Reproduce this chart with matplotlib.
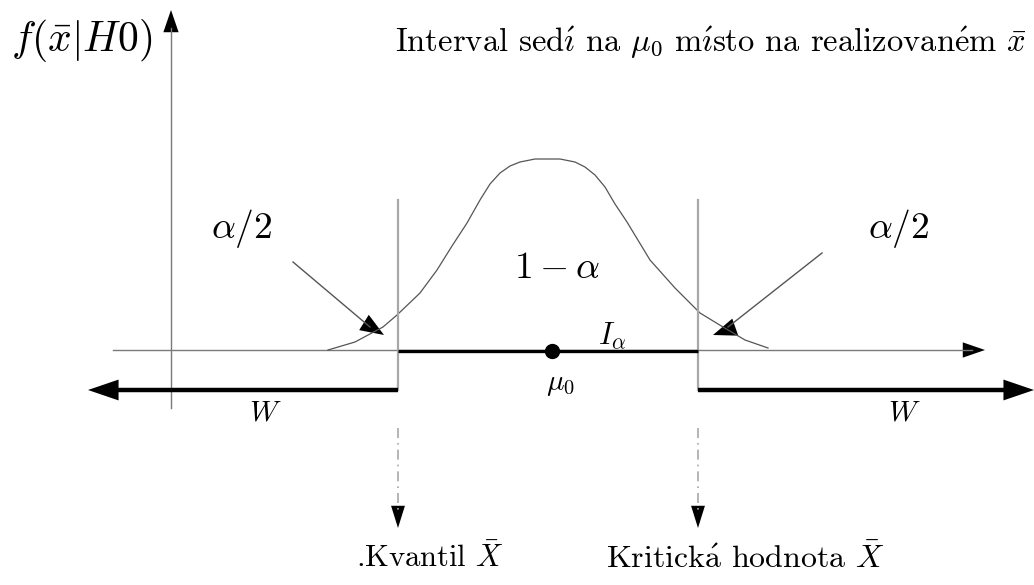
import matplotlib
matplotlib.use("Agg")
import matplotlib.pyplot as plt
from matplotlib.patches import FancyArrowPatch

plt.rcParams["mathtext.fontset"] = "cm"
plt.rcParams["font.family"] = ["cmr10", "DejaVu Serif"]
plt.rcParams["axes.unicode_minus"] = False

# Density curve under H0 (horizontal position, height above the axis)
curve_x = [328, 355, 383, 397, 420, 437, 452, 467, 480, 490, 500, 510, 520,
           535, 547, 560, 575, 585, 595, 605, 615, 627, 650, 675, 700, 723,
           745, 768]
curve_h = [0, 8, 23, 35, 57, 80, 104, 127, 150, 166, 177, 184, 188,
           191, 191, 191, 188, 183, 175, 163, 146, 128, 90, 62, 37, 23,
           10, 2]

# Key positions on the horizontal axis
mu0 = 552
lower_crit = 398
upper_crit = 698
y_axis_x = 171

GRAY = "#7a7a7a"
LIGHT = "#a8a8a8"

fig = plt.figure(figsize=(10.34, 5.85), dpi=100)
ax = fig.add_axes([0, 0, 1, 1])
ax.set_xlim(0, 1034)
ax.set_ylim(350 - 585, 350)
ax.axis("off")


def head(p0, p1, length=1.6, width=0.55):
    ax.add_patch(FancyArrowPatch(p0, p1,
                                 arrowstyle=f"-|>,head_length={length},head_width={width}",
                                 mutation_scale=10, color="black", lw=0,
                                 shrinkA=0, shrinkB=0))


# vertical axis
ax.plot([y_axis_x, y_axis_x], [-58, 322], color=GRAY, lw=1.0)
head((y_axis_x, 318), (y_axis_x, 340))
# horizontal axis
ax.plot([113, 972], [0, 0], color=GRAY, lw=1.0)
head((965, 0), (985, 0))

# density curve
ax.plot(curve_x, curve_h, color="#555555", lw=0.9)

# critical boundaries
for xc in (lower_crit, upper_crit):
    ax.plot([xc, xc], [150, -40], color=LIGHT, lw=1.6)

# acceptance interval I_alpha
ax.plot([lower_crit, upper_crit], [-1, -1], color="black", lw=2.4, solid_capstyle="butt")
ax.plot([mu0], [-1], "o", color="black", ms=10)

# rejection regions W
ax.plot([lower_crit, 100], [-40, -40], color="black", lw=3.2, solid_capstyle="butt")
head((110, -40), (88, -40), 2.2, 0.75)
ax.plot([upper_crit, 1022], [-40, -40], color="black", lw=3.2, solid_capstyle="butt")
head((1012, -40), (1034, -40), 2.2, 0.75)

# alpha/2 pointers
for (x0, y0, x1, y1) in ((293, 88, 370, 23), (822, 97, 728, 23)):
    ax.plot([x0, x1], [y0, y1], color="#555555", lw=1.0)
head((368, 25), (384, 15), 1.7, 0.65)
head((730, 21), (713, 15), 1.7, 0.65)

# dash-dot pointers to the bottom labels
for xc in (lower_crit, upper_crit):
    ax.plot([xc, xc], [-78, -160], color=LIGHT, lw=1.2, ls=(0, (6, 3, 1, 3)))
    head((xc, -162), (xc, -178), 1.6, 0.5)

# labels
ax.text(82, 310, r"$f(\bar{x}|H0)$", fontsize=30, ha="center", va="center")
ax.text(711, 307,
        r"Interval sed$\mathrm{\acute{\imath}}$ na $\mu_0$ m$\mathrm{\acute{\imath}}$sto "
        r"na realizovan$\mathrm{\acute{e}}$m $\bar{x}$",
        fontsize=23.5, ha="center", va="center")
ax.text(242, 122, r"$\alpha/2$", fontsize=27, ha="center", va="center")
ax.text(899, 122, r"$\alpha/2$", fontsize=27, ha="center", va="center")
ax.text(557, 82, r"$1-\alpha$", fontsize=27, ha="center", va="center")
ax.text(612, 14, r"$I_\alpha$", fontsize=22, ha="center", va="center")
ax.text(560, -35, r"$\mu_0$", fontsize=21, ha="center", va="center")
ax.text(265, -63, r"$W$", fontsize=21, ha="center", va="center")
ax.text(904, -63, r"$W$", fontsize=21, ha="center", va="center")
ax.text(430, -208, r".Kvantil $\bar{X}$", fontsize=22, ha="center", va="center")
ax.text(745, -208, r"Kritick$\mathrm{\acute{a}}$ hodnota $\bar{X}$",
        fontsize=23, ha="center", va="center")

fig.savefig("out.png", dpi=100)
